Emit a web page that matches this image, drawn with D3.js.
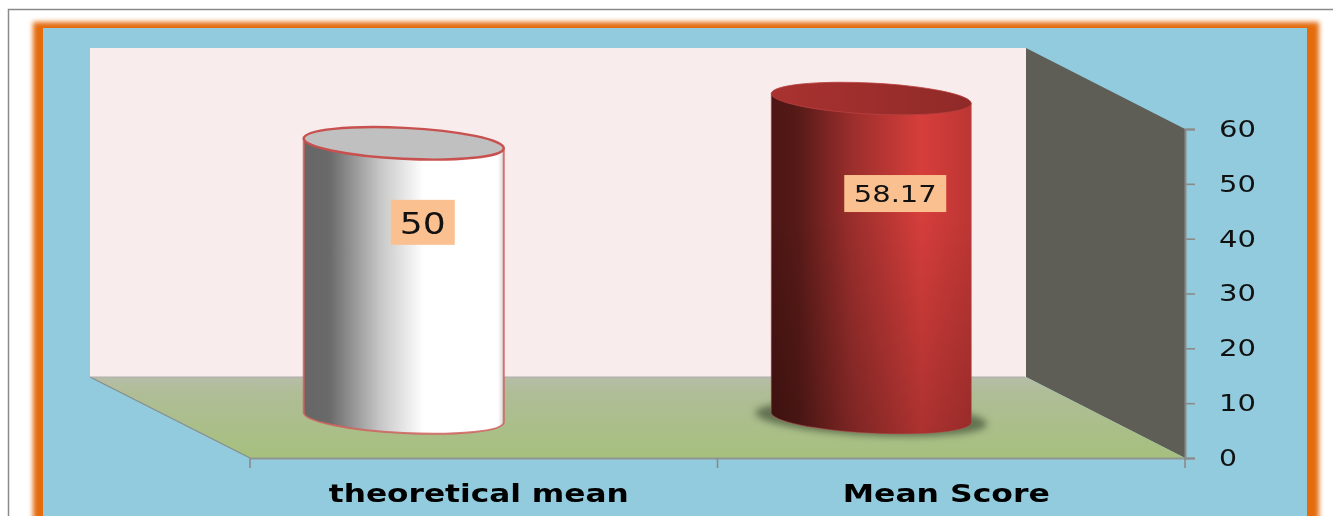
<!DOCTYPE html>
<html>
<head>
<meta charset="utf-8">
<script src="https://cdn.jsdelivr.net/npm/d3@7/dist/d3.min.js"></script>
<style>
html,body{margin:0;padding:0;background:#fff;overflow:hidden}
svg{display:block;filter:blur(0.45px)}
</style>
</head>
<body>
<svg id="chart" width="1333" height="516"></svg>
<script>
const categories = ["theoretical mean", "Mean Score"];
const values = [50, 58.17];
const valueLabels = ["50", "58.17"];
const yTicks = [0, 10, 20, 30, 40, 50, 60];

const svg = d3.select("#chart");
const defs = svg.append("defs");

function linear(id, stops, vertical) {
  const g = defs.append("linearGradient").attr("id", id)
    .attr("x1", 0).attr("y1", 0).attr("x2", vertical ? 0 : 1).attr("y2", vertical ? 1 : 0);
  stops.forEach(s => g.append("stop").attr("offset", s[0]).attr("stop-color", s[1]).attr("stop-opacity", s[2] === undefined ? 1 : s[2]));
}
linear("sideWhite", [[0,"#666"],[0.13,"#6a6a6a"],[0.38,"#c6c6c6"],[0.6,"#fff"],[0.97,"#fff"],[1,"#d8d8d8"]]);
linear("sideRed", [[0,"#4c1513"],[0.13,"#561a17"],[0.4,"#9a2e2c"],[0.75,"#d63e3b"],[1,"#bd3634"]]);
linear("capRed", [[0,"#a93230"],[1,"#8f2a28"]]);
linear("shade", [[0,"#000",0],[0.35,"#000",0],[1,"#000",0.2]], true);
linear("floorFill", [[0,"#b7bda8"],[0.2,"#afbd96"],[1,"#a6c07e"]], true);
const blur = (id, d) => defs.append("filter").attr("id", id)
  .attr("x","-20%").attr("y","-20%").attr("width","140%").attr("height","140%")
  .append("feGaussianBlur").attr("stdDeviation", d);
blur("frameBlur", 2.8);
blur("shadowBlur", 3.5);

// page frame
svg.append("path").attr("d","M1333,9.5H8.5V516").attr("fill","none").attr("stroke","#8a8a8a").attr("stroke-width",1.5);
svg.append("rect").attr("x",33).attr("y",22).attr("width",1286).attr("height",520)
  .attr("fill","#e46c0a").attr("filter","url(#frameBlur)");
svg.append("rect").attr("x",43).attr("y",28).attr("width",1264).attr("height",500).attr("fill","#92cbdd");

// scales
const depthX = 160, depthY = 81;
const y = d3.scaleLinear().domain([0, 60]).range([458, 129]);
const x = d3.scaleBand().domain(categories).range([250, 1185]);
const left = x.range()[0], right = x.range()[1];
const y0 = y(0), yTop = y(60);

// walls
svg.append("rect").attr("x",left-depthX).attr("y",yTop-depthY)
  .attr("width",right-left+1).attr("height",y0-yTop).attr("fill","#f8ecec");
svg.append("path").attr("d",`M${right-depthX+1},${yTop-depthY}L${right},${yTop}L${right},${y0}L${right-depthX+1},${y0-depthY}Z`).attr("fill","#5e5e57");
svg.append("path").attr("d",`M${left-depthX},${y0-depthY}L${right-depthX+1},${y0-depthY}L${right},${y0}L${left},${y0}Z`).attr("fill","url(#floorFill)");
svg.append("path").attr("d",`M${left-depthX},${y0-depthY}L${left},${y0}`).attr("stroke","#868d8f").attr("stroke-width",1.3).attr("fill","none");
svg.append("path").attr("d",`M${left-depthX},${y0-depthY}H${right-depthX}`).attr("stroke","#b0aeb0").attr("stroke-width",1).attr("fill","none");

// cylinders
const rw = 100, tilt = 5, ry = 15.5;
const rot = Math.atan2(tilt, rw) * 180 / Math.PI;
const rx = Math.hypot(rw, tilt);
const bars = svg.append("g").selectAll("g").data(categories.map((c,i)=>({c, v:values[i], label:valueLabels[i], i})))
  .join("g");

bars.each(function(d){
  const g = d3.select(this);
  const cx = x(d.c) + x.bandwidth()/2 - depthX/2;
  const base = y0 - depthY/2;
  const top = base - (y0 - y(d.v));
  const side = `M${cx-rw},${base-tilt}L${cx-rw},${top-tilt}L${cx+rw},${top+tilt}L${cx+rw},${base+tilt}A${rx},${ry},${rot},0,1,${cx-rw},${base-tilt}Z`;
  const red = d.i === 1;
  if (red) {
    g.append("ellipse").attr("cx",cx).attr("cy",base+1).attr("rx",116).attr("ry",17)
      .attr("transform",`rotate(${rot} ${cx} ${base})`)
      .attr("fill","#3a4a30").attr("opacity",0.65).attr("filter","url(#shadowBlur)");
  }
  g.append("path").attr("d",side).attr("fill",`url(#${red?"sideRed":"sideWhite"})`)
    .attr("stroke",red?"#c0504d":"#d0605e").attr("stroke-width",red?1:2).attr("stroke-opacity",red?0.6:0.85);
  if (red) g.append("path").attr("d",side).attr("fill","url(#shade)");
  g.append("ellipse").attr("cx",cx).attr("cy",top).attr("rx",rx).attr("ry",ry)
    .attr("transform",`rotate(${rot} ${cx} ${top})`)
    .attr("fill",red?"url(#capRed)":"#c0c0c0")
    .attr("stroke",red?"#b8403d":"#c8504e").attr("stroke-width",red?0.8:2.4);
});

// value labels
const labelBox = [{w:64,h:45,fs:31,tw:46,dx:19},{w:102,h:37,fs:23,tw:83,dx:24}];
bars.each(function(d){
  const g = d3.select(this), b = labelBox[d.i];
  const cx = x(d.c) + x.bandwidth()/2 - depthX/2 + b.dx;
  const top = y0 - depthY/2 - (y0 - y(d.v));
  const cy = top + (d.i ? 95 : 79);
  g.append("rect").attr("x",cx-b.w/2).attr("y",cy-b.h/2).attr("width",b.w).attr("height",b.h).attr("fill","#fac090");
  g.append("text").attr("x",cx).attr("y",cy).attr("dy","0.37em").attr("text-anchor","middle")
    .attr("font-family","DejaVu Sans").attr("font-size",b.fs).attr("fill","#111")
    .attr("textLength",b.tw).attr("lengthAdjust","spacingAndGlyphs").text(d.label);
});

// y axis
const yAxis = svg.append("g").attr("transform",`translate(${right},0)`)
  .call(d3.axisRight(y).tickValues(yTicks).tickSize(10).tickPadding(24).tickFormat(d3.format("d")));
yAxis.select(".domain").attr("stroke","#8a8a8a").attr("stroke-width",2);
yAxis.selectAll(".tick line").attr("stroke","#8a8a8a").attr("stroke-width",1.6);
yAxis.selectAll(".tick text").attr("font-family","DejaVu Sans").attr("font-size",23).attr("fill","#111")
  .attr("textLength",function(d){return d===0?18:37}).attr("lengthAdjust","spacingAndGlyphs");

// x axis
const xAxis = svg.append("g").attr("transform",`translate(0,${y0})`)
  .call(d3.axisBottom(x).tickSize(0).tickPadding(27));
xAxis.select(".domain").attr("stroke","#8f9590").attr("stroke-width",2);
xAxis.selectAll(".tick text").attr("font-family","DejaVu Sans").attr("font-weight","bold").attr("font-size",24.5).attr("fill","#000")
  .attr("dx",-5)
  .attr("textLength",function(d,i){return i?207:300}).attr("lengthAdjust","spacingAndGlyphs");
xAxis.selectAll("line.edge").data(d3.range(categories.length+1)).join("line").attr("class","edge")
  .attr("x1",i=>left+i*x.step()).attr("x2",i=>left+i*x.step()).attr("y1",0).attr("y2",10)
  .attr("stroke","#8a8a8a").attr("stroke-width",1.6);
</script>
</body>
</html>
